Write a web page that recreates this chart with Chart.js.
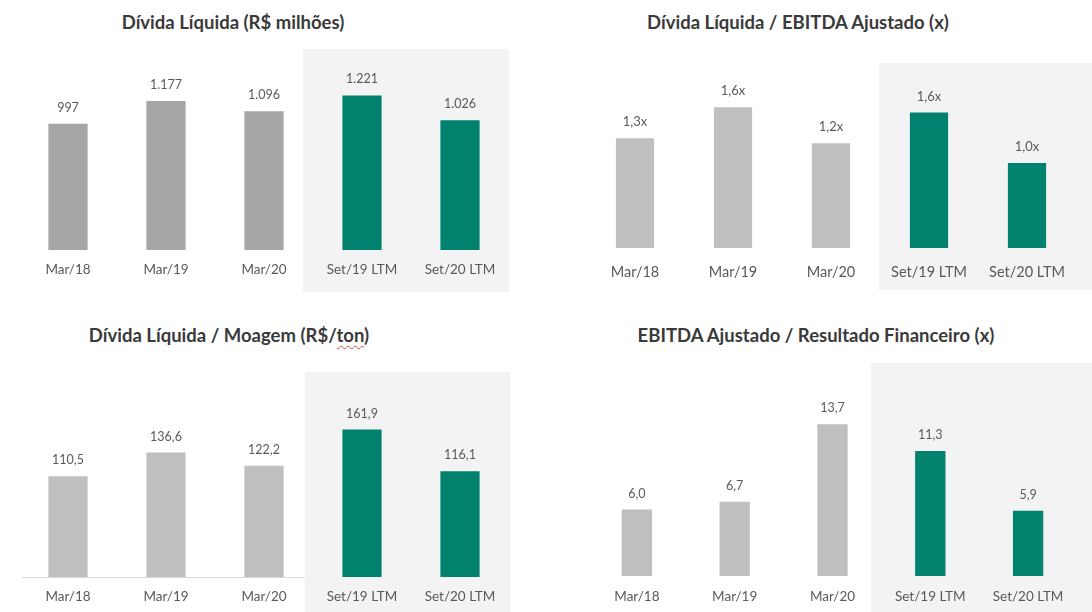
<!DOCTYPE html>
<html lang="pt-BR">
<head>
<meta charset="utf-8">
<title>Endividamento</title>
<script src="https://cdn.jsdelivr.net/npm/chart.js@4.4.1/dist/chart.umd.min.js"></script>
<style>
    body { margin: 0; width: 1092px; height: 612px; overflow: hidden; position: relative; background: #fff; font-family: Lato, 'Open Sans', sans-serif; }
    .fundo { position: absolute; background: #f3f3f3; }
    .titulo { position: absolute; transform: translate(-50%, -50%); font-weight: bold; font-size: 18.5px; color: #3a3a3a; white-space: nowrap; }
    .titulo u { text-decoration: underline wavy #d9534f; text-decoration-thickness: 1px; text-underline-offset: 3px; }
    .linha { position: absolute; height: 1px; background: #d9d9d9; }
    canvas { position: absolute; }
</style>
</head>
<body>
<div class="fundo" style="left:303px;top:49px;width:206px;height:243px"></div>
<div class="fundo" style="left:879px;top:63px;width:213px;height:227px"></div>
<div class="fundo" style="left:305px;top:372px;width:205px;height:240px"></div>
<div class="fundo" style="left:871px;top:363px;width:221px;height:249px"></div>
<div class="linha" style="left:22px;top:577px;width:283px"></div>

<div class="titulo" style="left:233px;top:22px">Dívida Líquida (R$ milhões)</div>
<div class="titulo" style="left:798px;top:22px">Dívida Líquida / EBITDA Ajustado (x)</div>
<div class="titulo" style="left:229px;top:335px">Dívida Líquida / Moagem (R$/<u>ton</u>)</div>
<div class="titulo" style="left:816px;top:335px">EBITDA Ajustado / Resultado Financeiro (x)</div>

<canvas id="chartDivida" width="546" height="300" style="left:0;top:0"></canvas>
<canvas id="chartAlavancagem" width="546" height="300" style="left:546px;top:0"></canvas>
<canvas id="chartMoagem" width="546" height="312" style="left:0;top:300px"></canvas>
<canvas id="chartCobertura" width="546" height="312" style="left:546px;top:300px"></canvas>

<script>
const periodos = ['Mar/18', 'Mar/19', 'Mar/20', 'Set/19 LTM', 'Set/20 LTM'];

const dividaLiquida = [997, 1177, 1096, 1221, 1026];
const dividaEbitda = [1.28, 1.64, 1.22, 1.58, 0.99];
const dividaMoagem = [110.5, 136.6, 122.2, 161.9, 116.1];
const ebitdaResultado = [6.0, 6.7, 13.7, 11.3, 5.9];

const CINZA_ESCURO = '#a6a6a6';
const CINZA_CLARO = '#bfbfbf';
const VERDE = '#00826f';

function formatarMilhar(v) {
    return String(v).replace(/\B(?=(\d{3})+(?!\d))/g, '.');
}

function formatarDecimal(v) {
    return v.toFixed(1).replace('.', ',');
}

// escreve o valor em cima de cada barra
const rotulosPlugin = {
    id: 'rotulos',
    afterDatasetsDraw(chart, args, opts) {
        const ctx = chart.ctx;
        const meta = chart.getDatasetMeta(0);
        const dados = chart.data.datasets[0].data;
        ctx.save();
        ctx.font = opts.fonte + 'px Lato, sans-serif';
        ctx.fillStyle = '#595959';
        ctx.textAlign = 'center';
        ctx.textBaseline = 'middle';
        meta.data.forEach((barra, i) => {
            ctx.fillText(opts.formato(dados[i]), barra.x, barra.y - 16);
        });
        ctx.restore();
    }
};

function criarGrafico(id, valores, cinza, area, eixo) {
    const canvas = document.getElementById(id);
    const largura = canvas.width;
    const altura = canvas.height;
    // o chart.js conta o padding dos ticks duas vezes na altura do eixo
    const alturaEixo = 2 * eixo.espaco + eixo.fonte * 1.2;
    const cores = valores.map((v, i) => i < 3 ? cinza : VERDE);

    return new Chart(canvas, {
        type: 'bar',
        data: {
            labels: periodos,
            datasets: [{
                data: valores,
                backgroundColor: cores,
                borderWidth: 0,
                barPercentage: area.barra,
                categoryPercentage: 1
            }]
        },
        plugins: [rotulosPlugin],
        options: {
            responsive: false,
            animation: false,
            devicePixelRatio: 1,
            layout: {
                padding: {
                    left: area.esquerda,
                    right: largura - area.direita,
                    top: area.topo,
                    bottom: altura - area.base - alturaEixo
                }
            },
            plugins: {
                legend: { display: false },
                tooltip: { enabled: false },
                rotulos: { formato: area.formato, fonte: eixo.valor }
            },
            scales: {
                x: {
                    grid: { display: false, drawTicks: false },
                    border: { display: false },
                    ticks: {
                        padding: eixo.espaco,
                        color: '#595959',
                        font: { family: 'Lato, sans-serif', size: eixo.fonte },
                        maxRotation: 0,
                        autoSkip: false
                    }
                },
                y: {
                    display: false,
                    min: 0,
                    max: area.maximo
                }
            }
        }
    });
}

criarGrafico('chartDivida', dividaLiquida, CINZA_ESCURO,
    { esquerda: 19, direita: 509, topo: 50, base: 250, barra: 0.4, maximo: 1580, formato: formatarMilhar },
    { espaco: 12, fonte: 13.5, valor: 12.5 });

criarGrafico('chartAlavancagem', dividaEbitda, CINZA_CLARO,
    { esquerda: 40, direita: 530, topo: 48, base: 248, barra: 0.39, maximo: 2.33, formato: v => formatarDecimal(v) + 'x' },
    { espaco: 16, fonte: 14.5, valor: 13 });

criarGrafico('chartMoagem', dividaMoagem, CINZA_CLARO,
    { esquerda: 19, direita: 509, topo: 77, base: 277, barra: 0.4, maximo: 219.5, formato: formatarDecimal },
    { espaco: 12, fonte: 13.5, valor: 12.5 });

criarGrafico('chartCobertura', ebitdaResultado, CINZA_CLARO,
    { esquerda: 42, direita: 531, topo: 76, base: 276, barra: 0.31, maximo: 18.07, formato: formatarDecimal },
    { espaco: 12.5, fonte: 13.5, valor: 12.5 });
</script>
</body>
</html>
